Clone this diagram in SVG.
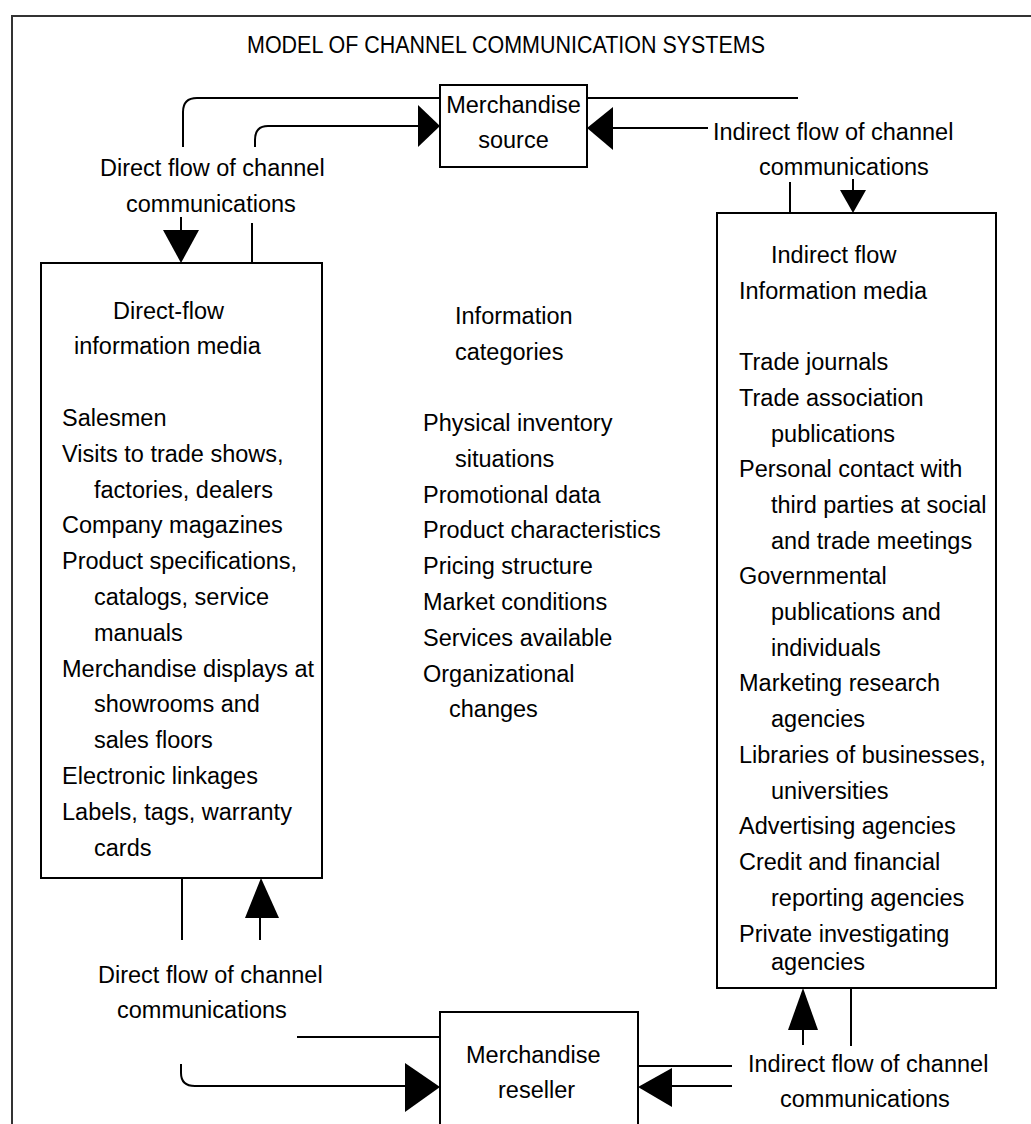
<svg xmlns="http://www.w3.org/2000/svg" width="1031" height="1124" viewBox="0 0 1031 1124">
<style>
text{font-family:"Liberation Sans",Arial,sans-serif;font-size:23.5px;fill:#000}
.box{fill:#fff;stroke:#000;stroke-width:2}
.ln{fill:none;stroke:#000;stroke-width:2}
.ah{fill:#000;stroke:none}
</style>
<rect width="1031" height="1124" fill="#fff"/>
<path d="M12,1124 V16 H1031" fill="none" stroke="#333" stroke-width="2"/>
<text x="247" y="53" textLength="518" lengthAdjust="spacingAndGlyphs" font-size="24">MODEL OF CHANNEL COMMUNICATION SYSTEMS</text>

<g id="connectors">
  <path class="ln" d="M183,147 V112 Q183,98 197,98 H440"/>
  <path class="ln" d="M587,98 H798"/>
  <path class="ln" d="M255,147 V140 Q255,126 268,126 H420"/>
  <polygon class="ah" points="418,105 440,126 418,147"/>
  <path class="ln" d="M611,128 H708"/>
  <polygon class="ah" points="613,107 587,128 613,150"/>
  <path class="ln" d="M181,217 V232"/>
  <polygon class="ah" points="163,230 199,230 181,263"/>
  <path class="ln" d="M252,223 V263"/>
  <path class="ln" d="M790,182 V213"/>
  <path class="ln" d="M853,179 V192"/>
  <polygon class="ah" points="840,190 866,190 853,213"/>
  <path class="ln" d="M182,878 V940"/>
  <path class="ln" d="M260,916 V940"/>
  <polygon class="ah" points="245,918 279,918 261,878"/>
  <path class="ln" d="M803,1028 V1045"/>
  <polygon class="ah" points="788,1030 818,1030 803,988"/>
  <path class="ln" d="M851,988 V1046"/>
  <path class="ln" d="M297,1037 H440"/>
  <path class="ln" d="M181,1064 V1073 Q181,1086 195,1086 H407"/>
  <polygon class="ah" points="405,1063 440,1087 405,1112"/>
  <path class="ln" d="M638,1066 H732"/>
  <path class="ln" d="M670,1086 H732"/>
  <polygon class="ah" points="672,1068 638,1087 672,1107"/>
</g>

<g id="label-direct-top">
  <text x="100" y="176">Direct flow of channel</text>
  <text x="126" y="212">communications</text>
</g>
<g id="label-indirect-top">
  <text x="713" y="140">Indirect flow of channel</text>
  <text x="759" y="175">communications</text>
</g>
<g id="label-direct-bottom">
  <text x="98" y="983">Direct flow of channel</text>
  <text x="117" y="1018">communications</text>
</g>
<g id="label-indirect-bottom">
  <text x="748" y="1072">Indirect flow of channel</text>
  <text x="780" y="1107">communications</text>
</g>

<g id="merchandise-source">
  <rect class="box" x="440" y="85" width="147" height="82"/>
  <text x="513.5" y="113" text-anchor="middle">Merchandise</text>
  <text x="513.5" y="148" text-anchor="middle">source</text>
</g>

<g id="merchandise-reseller">
  <rect class="box" x="440" y="1012" width="198" height="130"/>
  <text x="466" y="1063">Merchandise</text>
  <text x="498" y="1098">reseller</text>
</g>

<g id="direct-flow-media">
  <rect class="box" x="41" y="263" width="281" height="615"/>
  <text x="113" y="319">Direct-flow</text>
  <text x="74" y="354">information media</text>
  <text x="62" y="426">Salesmen</text>
  <text x="62" y="462">Visits to trade shows,</text>
  <text x="94" y="497.6">factories, dealers</text>
  <text x="62" y="533.4">Company magazines</text>
  <text x="62" y="569.2">Product specifications,</text>
  <text x="94" y="605">catalogs, service</text>
  <text x="94" y="640.8">manuals</text>
  <text x="62" y="676.6">Merchandise displays at</text>
  <text x="94" y="712.4">showrooms and</text>
  <text x="94" y="748.2">sales floors</text>
  <text x="62" y="784">Electronic linkages</text>
  <text x="62" y="819.8">Labels, tags, warranty</text>
  <text x="94" y="855.6">cards</text>
</g>

<g id="information-categories">
  <text x="455" y="324">Information</text>
  <text x="455" y="359.5">categories</text>
  <text x="423" y="431">Physical inventory</text>
  <text x="455" y="466.8">situations</text>
  <text x="423" y="502.6">Promotional data</text>
  <text x="423" y="538.4">Product characteristics</text>
  <text x="423" y="574.2">Pricing structure</text>
  <text x="423" y="610">Market conditions</text>
  <text x="423" y="645.8">Services available</text>
  <text x="423" y="681.6">Organizational</text>
  <text x="449" y="717.4">changes</text>
</g>

<g id="indirect-flow-media">
  <rect class="box" x="717" y="213" width="279" height="775"/>
  <text x="771" y="263">Indirect flow</text>
  <text x="739" y="298.7">Information media</text>
  <text x="739" y="370">Trade journals</text>
  <text x="739" y="405.8">Trade association</text>
  <text x="771" y="441.5">publications</text>
  <text x="739" y="477.2">Personal contact with</text>
  <text x="771" y="513">third parties at social</text>
  <text x="771" y="548.6">and trade meetings</text>
  <text x="739" y="584.3">Governmental</text>
  <text x="771" y="620">publications and</text>
  <text x="771" y="655.7">individuals</text>
  <text x="739" y="691.4">Marketing research</text>
  <text x="771" y="727">agencies</text>
  <text x="739" y="762.8">Libraries of businesses,</text>
  <text x="771" y="798.5">universities</text>
  <text x="739" y="834">Advertising agencies</text>
  <text x="739" y="870">Credit and financial</text>
  <text x="771" y="905.6">reporting agencies</text>
  <text x="739" y="941.5">Private investigating</text>
  <text x="771" y="970">agencies</text>
</g>
</svg>
